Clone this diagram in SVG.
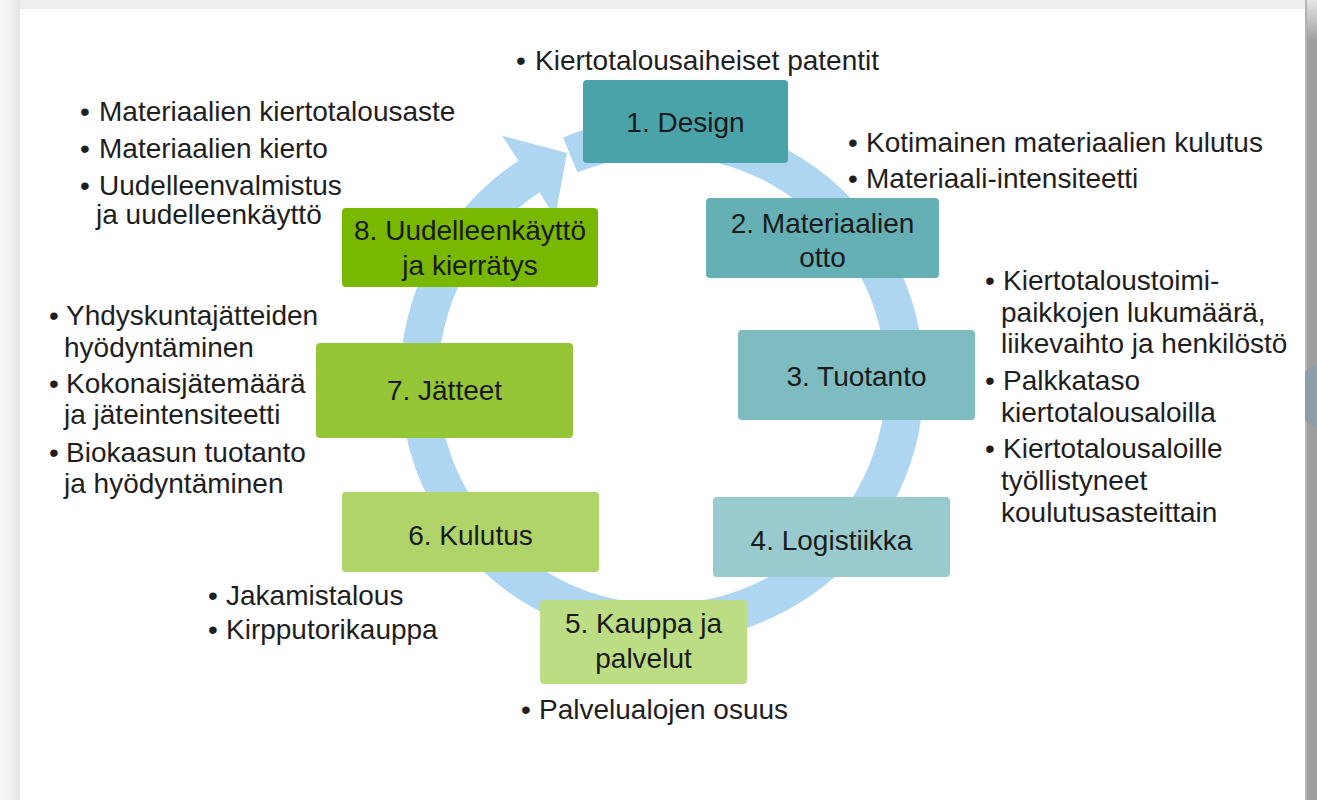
<svg xmlns="http://www.w3.org/2000/svg" width="1317" height="800" viewBox="0 0 1317 800">
  <defs>
    <linearGradient id="leftShade" x1="0" y1="0" x2="1" y2="0">
      <stop offset="0" stop-color="#f8f8f8"/>
      <stop offset="0.6" stop-color="#f0f0f0"/>
      <stop offset="1" stop-color="#e4e4e4"/>
    </linearGradient>
    <linearGradient id="rightTop" x1="0" y1="0" x2="0" y2="1">
      <stop offset="0" stop-color="#e6e6e6"/>
      <stop offset="1" stop-color="#a0a0a0"/>
    </linearGradient>
    <style>
      .box { stroke: none; }
      .lbl { font-family: "Liberation Sans", Arial, sans-serif; font-size: 28px; fill: #1a1a1a; text-anchor: middle; }
      .txt { font-family: "Liberation Sans", Arial, sans-serif; font-size: 28px; fill: #1e1e1e; }
      .ring { fill: #afd6f1; }
    </style>
  </defs>

  <!-- background frame -->
  <rect x="0" y="0" width="1317" height="800" fill="#efefef"/>
  <rect x="0" y="0" width="20" height="800" fill="url(#leftShade)"/>
  <rect x="1305" y="0" width="12" height="800" fill="#9e9e9e"/>
  <rect x="1305" y="0" width="12" height="40" fill="url(#rightTop)"/>
  <rect x="1305" y="0" width="2" height="800" fill="#b4b4b4"/>
  <path d="M1305,372 Q1311,367 1317,365 L1317,428 Q1311,425 1305,420 Z" fill="#8b9ea9"/>
  <rect x="20" y="9" width="1285" height="791" fill="#ffffff"/>

  <!-- connector: circular arrow -->
  <g id="connectors">
    <path class="ring" d="M563.0,137.4 A262,262 0 1,1 518.5,160.8 L502.1,135.7 L567,153 L555.2,216.8 L539.3,192.6 A224,224 0 1,0 577.4,172.6 Z"/>
  </g>

  <g id="node1">
    <rect class="box" x="583" y="80" width="205" height="83" rx="4" fill="#4aa3a9"/>
    <text class="lbl" x="685.5" y="132">1. Design</text>
  </g>
  <g id="node2">
    <rect class="box" x="706" y="198" width="233" height="80" rx="4" fill="#64b0b5"/>
    <text class="lbl" x="822.5" y="233">2. Materiaalien</text>
    <text class="lbl" x="822.5" y="267">otto</text>
  </g>
  <g id="node3">
    <rect class="box" x="738" y="330" width="237" height="90" rx="4" fill="#7fbcc2"/>
    <text class="lbl" x="856.5" y="386">3. Tuotanto</text>
  </g>
  <g id="node4">
    <rect class="box" x="713" y="497" width="237" height="80" rx="4" fill="#99cace"/>
    <text class="lbl" x="831.5" y="550">4. Logistiikka</text>
  </g>
  <g id="node5">
    <rect class="box" x="540" y="600" width="207" height="84" rx="4" fill="#bddd85"/>
    <text class="lbl" x="643.5" y="633">5. Kauppa ja</text>
    <text class="lbl" x="643.5" y="668">palvelut</text>
  </g>
  <g id="node6">
    <rect class="box" x="342" y="492" width="257" height="80" rx="4" fill="#b0d46a"/>
    <text class="lbl" x="470.5" y="545">6. Kulutus</text>
  </g>
  <g id="node7">
    <rect class="box" x="316" y="343" width="257" height="95" rx="4" fill="#95c637"/>
    <text class="lbl" x="444.5" y="400">7. Jätteet</text>
  </g>
  <g id="node8">
    <rect class="box" x="342" y="208" width="256" height="79" rx="4" fill="#78b800"/>
    <text class="lbl" x="470" y="240">8. Uudelleenkäyttö</text>
    <text class="lbl" x="470" y="275">ja kierrätys</text>
  </g>

  <!-- indicator lists -->
  <g id="list1">
    <text class="txt" x="516" y="70">•</text>
    <text class="txt" x="535" y="70">Kiertotalousaiheiset patentit</text>
  </g>
  <g id="list2">
    <text class="txt" x="848" y="152">•</text>
    <text class="txt" x="866" y="152">Kotimainen materiaalien kulutus</text>
    <text class="txt" x="848" y="188">•</text>
    <text class="txt" x="866" y="188">Materiaali-intensiteetti</text>
  </g>
  <g id="list3">
    <text class="txt" x="985" y="290">•</text>
    <text class="txt" x="1003" y="290">Kiertotaloustoimi-</text>
    <text class="txt" x="1001" y="322">paikkojen lukumäärä,</text>
    <text class="txt" x="1001" y="353">liikevaihto ja henkilöstö</text>
    <text class="txt" x="985" y="390">•</text>
    <text class="txt" x="1003" y="390">Palkkataso</text>
    <text class="txt" x="1001" y="422">kiertotalousaloilla</text>
    <text class="txt" x="985" y="458">•</text>
    <text class="txt" x="1003" y="458">Kiertotalousaloille</text>
    <text class="txt" x="1001" y="490">työllistyneet</text>
    <text class="txt" x="1001" y="522">koulutusasteittain</text>
  </g>
  <g id="list5">
    <text class="txt" x="521" y="719">•</text>
    <text class="txt" x="539" y="719">Palvelualojen osuus</text>
  </g>
  <g id="list6">
    <text class="txt" x="208" y="605">•</text>
    <text class="txt" x="226" y="605">Jakamistalous</text>
    <text class="txt" x="208" y="639">•</text>
    <text class="txt" x="226" y="639">Kirpputorikauppa</text>
  </g>
  <g id="list7">
    <text class="txt" x="49" y="325">•</text>
    <text class="txt" x="66" y="325">Yhdyskuntajätteiden</text>
    <text class="txt" x="64" y="357">hyödyntäminen</text>
    <text class="txt" x="49" y="393">•</text>
    <text class="txt" x="66" y="393">Kokonaisjätemäärä</text>
    <text class="txt" x="64" y="424">ja jäteintensiteetti</text>
    <text class="txt" x="49" y="462">•</text>
    <text class="txt" x="66" y="462">Biokaasun tuotanto</text>
    <text class="txt" x="64" y="493">ja hyödyntäminen</text>
  </g>
  <g id="list8">
    <text class="txt" x="80" y="121">•</text>
    <text class="txt" x="99" y="121">Materiaalien kiertotalousaste</text>
    <text class="txt" x="80" y="158">•</text>
    <text class="txt" x="99" y="158">Materiaalien kierto</text>
    <text class="txt" x="80" y="195">•</text>
    <text class="txt" x="99" y="195">Uudelleenvalmistus</text>
    <text class="txt" x="96" y="224">ja uudelleenkäyttö</text>
  </g>
</svg>
